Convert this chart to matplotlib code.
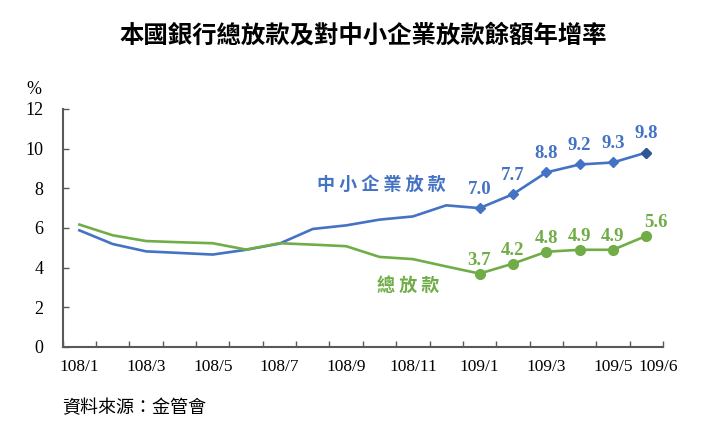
import matplotlib
matplotlib.use("Agg")
import matplotlib.pyplot as plt
from matplotlib.transforms import ScaledTranslation

# monthly labels (ROC calendar)
months = ["108/1", "108/2", "108/3", "108/4", "108/5", "108/6", "108/7", "108/8", "108/9",
          "108/10", "108/11", "108/12", "109/1", "109/2", "109/3", "109/4", "109/5", "109/6"]
shown_months = ["108/1", "108/3", "108/5", "108/7", "108/9", "108/11", "109/1", "109/3", "109/5", "109/6"]

# year-over-year growth (%)
sme_loans = [5.88, 5.19, 4.82, 4.74, 4.66, 4.90, 5.21, 5.95, 6.13, 6.42, 6.58, 7.14,
             7.0, 7.7, 8.8, 9.2, 9.3, 9.8]
total_loans = [6.17, 5.63, 5.34, 5.28, 5.23, 4.91, 5.23, 5.16, 5.08, 4.54, 4.43, 4.06,
               3.7, 4.2, 4.8, 4.9, 4.9, 5.6]
first_labelled = "109/1"

BLUE = "#4472C4"
GREEN = "#70AD47"
AXIS = "#595959"
CJK = ["Noto Sans CJK TC", "DejaVu Sans"]
NUM = ["Liberation Serif", "DejaVu Serif"]

fig = plt.figure(figsize=(7.21, 4.34), dpi=100)
ax = fig.add_axes([0.087, 0.2005, 0.8325, 0.5485])

x = list(range(len(months)))
k = months.index(first_labelled)

ax.plot(x, sme_loans, color=BLUE, lw=1.9, zorder=3)
ax.plot(x[k:], sme_loans[k:], ls="none", marker="D", ms=5, color=BLUE, zorder=4)
ax.plot(x[-1], sme_loans[-1], ls="none", marker="D", ms=5.5, color="#2F5597", zorder=5)
ax.plot(x, total_loans, color=GREEN, lw=1.9, zorder=3)
ax.plot(x[k:], total_loans[k:], ls="none", marker="o", ms=7, color=GREEN, zorder=4)

for i in range(k, len(months)):
    ax.annotate(f"{sme_loans[i]:.1f}", (x[i], sme_loans[i]), xytext=(0, 19),
                textcoords="offset pixels", ha="center", va="center",
                color=BLUE, fontsize=13.5, fontweight="bold", family=NUM)
    dx = 10 if i == len(months) - 1 else 0
    ax.annotate(f"{total_loans[i]:.1f}", (x[i], total_loans[i]), xytext=(dx, 13),
                textcoords="offset pixels", ha="center", va="center",
                color=GREEN, fontsize=13.5, fontweight="bold", family=NUM)

ax.text(9.04, 8.18, "中 小 企 業 放 款", color=BLUE, fontsize=13, fontweight="bold",
        family=CJK, ha="center", va="center")
ax.text(9.85, 3.13, "總 放 款", color=GREEN, fontsize=13, fontweight="bold",
        family=CJK, ha="center", va="center")

ax.set_xlim(-0.5, len(months) - 0.5)
ax.set_ylim(0, 12)
ax.set_yticks(range(0, 13, 2))
ax.set_yticklabels([str(v) for v in range(0, 13, 2)], family=NUM, fontsize=13)
ax.set_xticks([i - 0.5 for i in range(len(months) + 1)])
ax.set_xticklabels([])
ax.set_xticks([months.index(m) for m in shown_months], shown_months, minor=True,
              family=NUM, fontsize=12.5)
ax.tick_params(axis="x", which="major", direction="in", length=4, color=AXIS, width=1)
ax.tick_params(axis="x", which="minor", length=0, pad=9)
ax.tick_params(axis="y", direction="in", length=4, color=AXIS, width=1, pad=14)

# last two labels crowd each other; nudge the final one right like the original
last = ax.get_xticklabels(minor=True)[-1]
last.set_transform(last.get_transform() + ScaledTranslation(0.12, 0, fig.dpi_scale_trans))

for s in ["top", "right"]:
    ax.spines[s].set_visible(False)
for s in ["left", "bottom"]:
    ax.spines[s].set_color(AXIS)
    ax.spines[s].set_linewidth(1.5)

fig.text(34 / 721, 1 - 90 / 434, "%", family=NUM, fontsize=13, ha="center", va="center")
fig.text(363 / 721, 1 - 35 / 434, "本國銀行總放款及對中小企業放款餘額年增率", family=CJK,
         fontsize=17.6, fontweight="bold", ha="center", va="center")
fig.text(62 / 721, 1 - 408 / 434, "資料來源：金管會", family=CJK, fontsize=13,
         ha="left", va="center")

fig.savefig("out.png", dpi=100)
